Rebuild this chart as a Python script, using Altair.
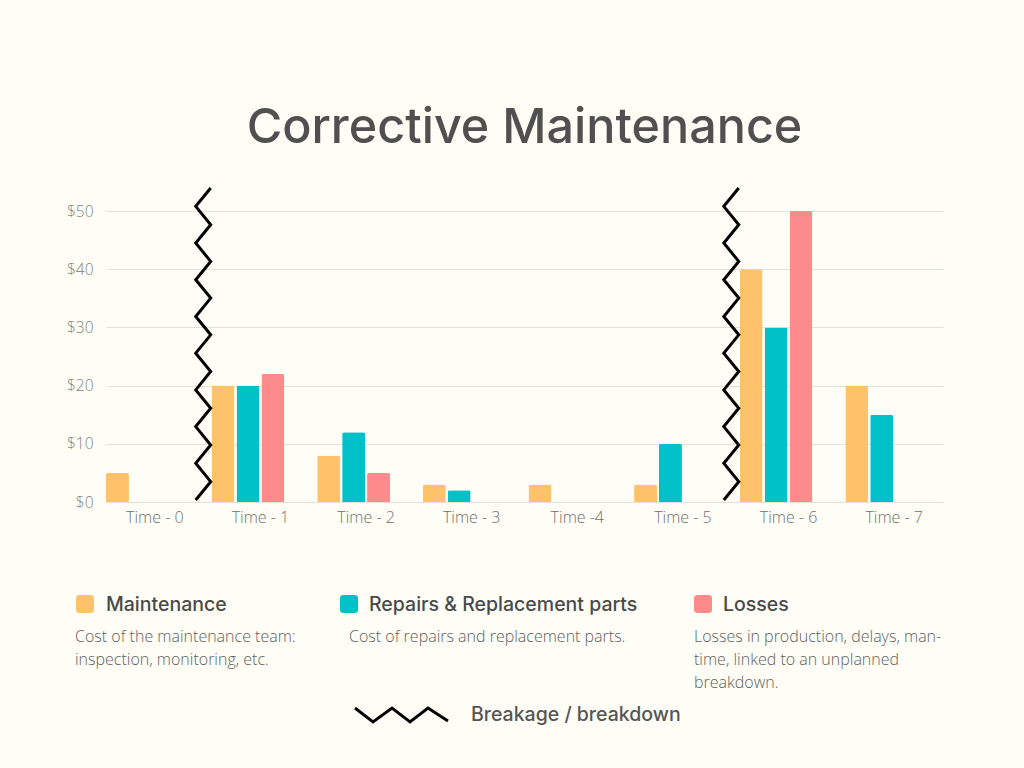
import altair as alt
import pandas as pd

# ---------------- data ----------------
title_text = "Corrective Maintenance"
times = ["Time - 0", "Time - 1", "Time - 2", "Time - 3", "Time -4", "Time - 5", "Time - 6", "Time - 7"]
maintenance = [5, 20, 8, 3, 3, 3, 40, 20]
repairs = [0, 20, 12, 2, 0, 10, 30, 15]
losses = [0, 22, 5, 0, 0, 0, 50, 0]
series = ["Maintenance", "Repairs & Replacement parts", "Losses"]
colors = ["#FEC26B", "#00C0C8", "#FE8B8B"]
descriptions = [
    "Cost of the maintenance team:\ninspection, monitoring, etc.",
    "Cost of repairs and replacement parts.",
    "Losses in production, delays, man-\ntime, linked to an unplanned\nbreakdown.",
]
breakdowns = ["Time - 1", "Time - 6"]
breakage_label = "Breakage / breakdown"
y_ticks = [0, 10, 20, 30, 40, 50]

# ---------------- layout / style ----------------
W, H = 837, 291
BG = "#FEFEF6"
sq_x = [-30, 234, 588]
head_x = [0, 263, 617]
desc_x = [-31, 243, 588]

rows = []
for s, vals in zip(series, [maintenance, repairs, losses]):
    for t, v in zip(times, vals):
        if v > 0:
            rows.append({"time": t, "series": s, "value": v})
df = pd.DataFrame(rows)

x_scale = alt.Scale(domain=times, paddingInner=0.075, paddingOuter=0)

bars = alt.Chart(df).mark_bar(cornerRadiusTopLeft=2, cornerRadiusTopRight=2).encode(
    x=alt.X("time:N", scale=x_scale, sort=times,
            axis=alt.Axis(title=None, labelAngle=0, domain=False, ticks=False, grid=False,
                          labelPadding=7, labelFont="Open Sans", labelFontSize=16,
                          labelFontWeight=300, labelColor="#707070")),
    y=alt.Y("value:Q", scale=alt.Scale(domain=[0, 50], nice=False),
            axis=alt.Axis(title=None, values=y_ticks, labelExpr="'$' + datum.value",
                          domain=False, ticks=False, labelPadding=13, gridColor="#E2E2DC",
                          gridWidth=1, labelFont="Open Sans", labelFontSize=15.5,
                          labelFontWeight=300, labelColor="#808080")),
    xOffset=alt.XOffset("series:N", sort=series,
                        scale=alt.Scale(domain=series + ["_"], paddingInner=0.08)),
    color=alt.Color("series:N", scale=alt.Scale(domain=series, range=colors), legend=None),
)

# zigzag path for breakdown markers (unit box, shifted left of the band centre)
n = 18
shift = -0.367
pts = []
for i in range(n):
    xx = shift + (0.048 if i % 2 == 0 else -0.048)
    yy = -1 + 2 * i / (n - 1)
    pts.append(f"{xx:.3f},{yy:.4f}")
zig_path = "M" + " L".join(pts)

brk = alt.Chart(pd.DataFrame({"time": breakdowns})).mark_point(
    shape=zig_path, size=97344, filled=False, stroke="black", strokeWidth=3,
    opacity=1
).encode(
    x=alt.X("time:N", scale=x_scale, sort=times),
    y=alt.value(133),
)

layers = [bars, brk]

# title
layers.append(
    alt.Chart(pd.DataFrame({"t": [title_text]})).mark_text(
        align="center", baseline="alphabetic", font="Inter", fontSize=48.5,
        fontWeight=500, color="#505050"
    ).encode(x=alt.value(W / 2), y=alt.value(-68), text="t:N")
)

# legend
for i, (name, col, desc) in enumerate(zip(series, colors, descriptions)):
    layers.append(
        alt.Chart(pd.DataFrame({"s": [name]})).mark_rect(cornerRadius=3, color=col).encode(
            x=alt.value(sq_x[i]), x2=alt.value(sq_x[i] + 18),
            y=alt.value(384), y2=alt.value(402))
    )
    layers.append(
        alt.Chart(pd.DataFrame({"s": [name]})).mark_text(
            align="left", baseline="alphabetic", font="Inter", fontSize=19.5,
            fontWeight=500, color="#4A4A4A"
        ).encode(x=alt.value(head_x[i]), y=alt.value(400), text="s:N")
    )
    layers.append(
        alt.Chart(pd.DataFrame({"d": [desc]})).mark_text(
            align="left", baseline="alphabetic", font="Open Sans", fontSize=16,
            fontWeight=300, color="#606060", lineBreak="\n", lineHeight=23
        ).encode(x=alt.value(desc_x[i]), y=alt.value(431), text="d:N")
    )

# breakage legend
leg_path = "M-1,-0.15 L-0.613,0.15 L-0.204,-0.15 L0.183,0.15 L0.57,-0.15 L1,0.13"
layers.append(
    alt.Chart(pd.DataFrame({"s": [breakage_label]})).mark_point(
        shape=leg_path, size=8649, filled=False, stroke="black", strokeWidth=3, opacity=1
    ).encode(x=alt.value(295.5), y=alt.value(504))
)
layers.append(
    alt.Chart(pd.DataFrame({"s": [breakage_label]})).mark_text(
        align="left", baseline="alphabetic", font="Inter", fontSize=19.5,
        fontWeight=500, color="#555555"
    ).encode(x=alt.value(365), y=alt.value(510), text="s:N")
)

chart = alt.layer(*layers).properties(
    width=W, height=H,
    padding={"left": 106, "top": 211, "right": 81, "bottom": 266},
    autosize=alt.AutoSizeParams(type="none"),
    background=BG,
).configure_view(stroke=None)

chart.save("out.html", embed_options={"renderer": "svg", "actions": False})
